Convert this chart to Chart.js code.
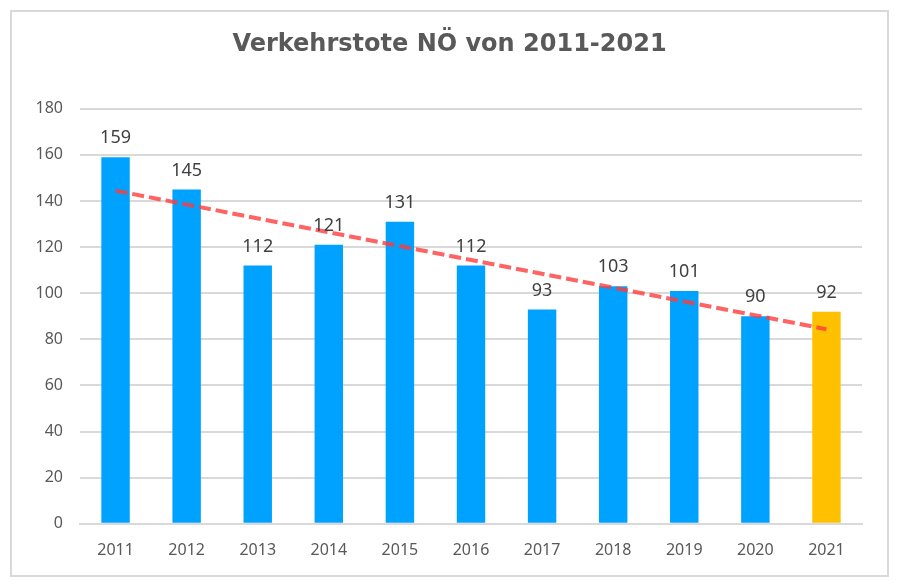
<!DOCTYPE html>
<html>
<head>
<meta charset="utf-8">
<script src="https://cdn.jsdelivr.net/npm/chart.js@4.4.0/dist/chart.umd.min.js"></script>
<style>
    html, body { margin: 0; padding: 0; background: #fff; }
    #wrap { position: relative; width: 899px; height: 585px; }
    #frame {
        position: absolute; left: 10px; top: 10px; width: 875px; height: 563px;
        border: 2px solid #d9d9d9; pointer-events: none;
    }
</style>
</head>
<body>
<div id="wrap">
    <canvas id="chart" width="899" height="585"></canvas>
    <div id="frame"></div>
</div>
<script>
'use strict';

const years = ['2011', '2012', '2013', '2014', '2015', '2016', '2017', '2018', '2019', '2020', '2021'];
const deaths = [159, 145, 112, 121, 131, 112, 93, 103, 101, 90, 92];
// Trendlinie: Endpunkte
const trendStart = 144.5;
const trendEnd = 84.4;
const trend = years.map((y, i) => i === 0 ? trendStart : (i === years.length - 1 ? trendEnd : null));

const blue = '#00a2ff';
const gold = '#ffc000';
const barColors = years.map(y => y === '2021' ? gold : blue);

// Beschriftung ueber den Balken
const barLabels = {
    id: 'barLabels',
    afterDatasetsDraw(chart) {
        const ctx = chart.ctx;
        const meta = chart.getDatasetMeta(1);
        ctx.save();
        ctx.font = '18px "Noto Sans"';
        ctx.fillStyle = '#404040';
        ctx.textAlign = 'center';
        ctx.textBaseline = 'bottom';
        meta.data.forEach((bar, i) => {
            ctx.fillText(String(deaths[i]), bar.x, bar.y - 10);
        });
        ctx.restore();
    }
};

new Chart(document.getElementById('chart'), {
    type: 'bar',
    data: {
        labels: years,
        datasets: [
            {
                type: 'line',
                label: 'Trend',
                data: trend,
                spanGaps: true,
                borderColor: 'rgba(255, 60, 60, 0.8)',
                borderWidth: 4,
                borderDash: [12, 5],
                pointRadius: 0,
                fill: false,
                order: 0
            },
            {
                label: 'Verkehrstote',
                data: deaths,
                backgroundColor: barColors,
                categoryPercentage: 1,
                barPercentage: 0.4,
                order: 1
            }
        ]
    },
    options: {
        responsive: false,
        animation: false,
        layout: { padding: { top: 30, left: 37, right: 37, bottom: 8 } },
        plugins: {
            legend: { display: false },
            tooltip: { enabled: false },
            title: {
                display: true,
                text: 'Verkehrstote NÖ von 2011-2021',
                color: '#595959',
                font: { family: 'DejaVu Sans', size: 24, weight: 'bold' },
                padding: { top: 0, bottom: 50 }
            }
        },
        scales: {
            x: {
                grid: { display: false, drawTicks: false },
                border: { display: true, color: '#d9d9d9', width: 2 },
                ticks: { color: '#595959', font: { family: 'Noto Sans', size: 16 }, padding: 17 }
            },
            y: {
                min: 0,
                max: 180,
                ticks: { stepSize: 20, color: '#595959', font: { family: 'Noto Sans', size: 16 }, padding: 17 },
                grid: { color: '#d9d9d9', lineWidth: 2, drawTicks: false },
                border: { display: false },
                afterFit(scale) { scale.width = 43; }
            }
        }
    },
    plugins: [barLabels]
});
</script>
</body>
</html>
